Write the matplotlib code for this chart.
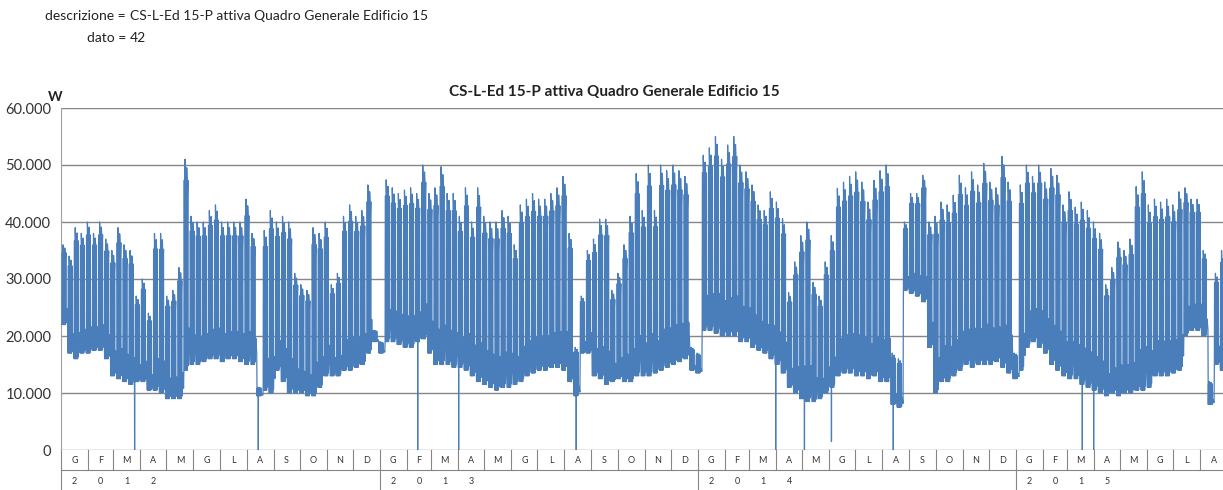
import numpy as np
import pandas as pd
import matplotlib
matplotlib.use('Agg')
import matplotlib.pyplot as plt
import matplotlib.dates as mdates
import matplotlib.transforms as mtransforms
from matplotlib.ticker import FuncFormatter

plt.rcParams['font.family'] = ['Lato', 'DejaVu Sans']

# weekly readings (kW) : peak of the working days and night base
# week 0 starts on monday 2012-01-02
peak_2012 = [36, 34, 39, 38, 40, 38, 40, 37, 35, 39,
             36, 35, 27, 30, 24, 38, 38, 27, 28, 32,
             51, 41, 40, 40, 42, 43, 40, 40, 40, 40,
             44, 38, 11, 38.5, 42, 40, 41, 40, 31, 29,
             28, 39, 38, 40, 29, 31, 41, 43, 41, 42,
             46.5, 21]
base_2012 = [22, 17, 16, 17, 17, 17.5, 17.5, 16, 13, 12.5,
             12, 11.5, 12, 12, 10.5, 10.5, 10, 9, 9, 9,
             14, 15, 15, 15.5, 16, 16, 15.5, 16, 16, 15.5,
             15, 15, 9.5, 10.5, 10, 14, 12, 10, 10, 10,
             9.5, 9.5, 11, 13, 13, 13, 14, 14, 14.5, 15,
             17, 19]
peak_2013 = [19, 47.4, 46, 45, 45.6, 46, 45, 50, 45, 46,
             49.7, 45, 45, 41, 46, 40, 46, 41, 40, 40,
             42, 41, 36, 43, 44, 45, 44, 44, 45, 46,
             48, 38, 18, 27, 35, 37, 40.5, 40.5, 28, 31,
             36, 41, 48.5, 42, 50, 42, 50, 49, 50, 49,
             48, 18]
base_2013 = [17, 19, 19, 18.5, 18, 18, 19, 19.5, 17, 15,
             15, 15, 14.5, 14.5, 14, 13, 12, 11.5, 11, 10.5,
             11, 11, 11.5, 12, 13, 13.5, 14, 14, 14.5, 14.5,
             14, 12, 9.5, 17, 17, 13, 12.5, 11.5, 12, 12.5,
             12, 12, 13, 13, 13, 13.5, 14, 14.5, 15, 15.5,
             16, 14]
peak_2014 = [17, 51.7, 53, 55, 51, 53.5, 55, 50, 48.8, 46.5,
             43, 42, 45.3, 43.5, 40.6, 27.6, 33, 37.6, 40, 29.4,
             27, 33, 37.6, 45.9, 47, 48, 48.8, 47, 43.5, 47.3,
             49, 50, 17, 16, 40, 45, 45, 48.2, 40, 41,
             43.5, 43, 44.7, 48.2, 46, 48.8, 46.5, 50.3, 47, 46,
             51.5, 47]
base_2014 = [13.5, 21, 21, 20.5, 20, 20, 20, 19, 19, 18,
             17.5, 17, 16, 15, 13.5, 11, 10, 9, 8.5, 8.5,
             9, 10, 11, 13, 13.5, 13.5, 13, 13, 12.5, 13,
             12, 12, 8, 7.5, 28, 27.5, 27, 26, 18, 10,
             12, 12, 13, 14, 15, 14.5, 15, 15, 15, 15.5,
             14.5, 13.5]
peak_2015 = [17, 46.5, 50, 48, 50, 47, 49.4, 48.2, 43, 45.3,
             42.6, 43.5, 42, 40, 38, 29, 32, 36.5, 35, 37,
             46.2, 48.8, 43, 44, 43.5, 44, 43, 45.3, 46, 44,
             44, 35, 12, 31, 35]
base_2015 = [12.5, 14, 18, 19, 18, 17, 15, 14, 13, 12.5,
             12.5, 11.5, 11, 10.5, 10, 9.5, 10, 9.5, 10, 10,
             10.5, 10.5, 11, 13, 13, 13, 13.5, 14, 20, 21,
             21, 20, 8, 15, 14]

# share of the weekly peak reached on each working day (mon..fri)
day_share = [0.9, 1.0, 0.93, 0.96, 0.82]

# single readings where the supply dropped
outage_dates = ['2012-03-25', '2012-08-14', '2013-02-13', '2013-04-01', '2013-08-14',
                '2014-03-31', '2014-05-03', '2014-06-03', '2014-08-13', '2015-03-18',
                '2015-03-31']
outage_values = [0, 0, 0, 0, 0, 0, 0, 1500, 0, 0, 0]

month_letters = ['G', 'F', 'M', 'A', 'M', 'G', 'L', 'A', 'S', 'O', 'N', 'D']
yticks = [0, 10000, 20000, 30000, 40000, 50000, 60000]
title = 'CS-L-Ed 15-P attiva Quadro Generale Edificio 15'

peak = np.array(peak_2012 + peak_2013 + peak_2014 + peak_2015) * 1000
base = np.array(base_2012 + base_2013 + base_2014 + base_2015) * 1000

# daily profile (time of day, share of the day swing) and weekend profile
work_day = [(0.08, 0.0), (0.2, 0.8), (0.32, 1.0), (0.7, 0.9),
            (0.82, 0.55), (0.94, 0.02)]
weekend = [(5.3, 0.15), (5.7, 0.2), (6.3, 0.12), (6.7, 0.08)]

first_monday = pd.Timestamp('2012-01-02')
times, vals = [], []
for w in range(len(peak)):
    start = first_monday + pd.Timedelta(weeks=w)
    swing = peak[w] - base[w]
    for d in range(5):
        for off, f in work_day:
            times.append(start + pd.Timedelta(days=d + off))
            vals.append(base[w] + swing * f * (day_share[d] if f == 1.0 else 1.0))
    for off, f in weekend:
        times.append(start + pd.Timedelta(days=off))
        vals.append(base[w] + swing * f)
s = pd.Series(vals, index=pd.DatetimeIndex(times))
out = pd.Series(outage_values, index=pd.to_datetime(outage_dates) + pd.Timedelta(hours=12))
s = pd.concat([s, out]).sort_index()

fig = plt.figure(figsize=(12.23, 4.90), dpi=100)
ax = fig.add_axes([61 / 1223, 40 / 490, 1 - 61 / 1223, 342 / 490])

xnum = mdates.date2num(s.index.to_pydatetime())
ax.plot(xnum, s.values, color='#4A7EBB', linewidth=0.9, zorder=3)

xmin = mdates.date2num(pd.Timestamp('2012-01-01').to_pydatetime())
xmax = mdates.date2num(pd.Timestamp('2015-08-27').to_pydatetime())
ax.set_xlim(xmin, xmax)
ax.set_ylim(0, 60000)

grid_col = '#868686'
ax.set_yticks(yticks)
ax.yaxis.set_major_formatter(FuncFormatter(lambda v, p: f'{int(v):,}'.replace(',', '.')))
ax.tick_params(axis='y', length=0, pad=7, labelsize=10.5, labelcolor='#333333')
ax.set_xticks([])
ax.grid(axis='y', color=grid_col, linewidth=1.0, zorder=1)
for side in ['top', 'right', 'bottom']:
    ax.spines[side].set_visible(False)
ax.spines['left'].set_color('#a0a0a0')
ax.spines['left'].set_linewidth(0.8)

# category axis: months and years
trans = mtransforms.blended_transform_factory(ax.transData, ax.transAxes)
months = pd.date_range('2012-01-01', '2015-09-01', freq='MS')
for a, b in zip(months[:-1], months[1:]):
    xa = mdates.date2num(a.to_pydatetime())
    if xa > xmax:
        continue
    low = -0.117 if a.month == 1 else -0.058
    ax.plot([xa, xa], [0, low], transform=trans, color=grid_col, linewidth=0.8,
            clip_on=False)
    xc = mdates.date2num((a + (b - a) / 2).to_pydatetime())
    if xc < xmax:
        ax.text(xc, -0.032, month_letters[a.month - 1], transform=trans,
                ha='center', va='center', fontsize=6.5, color='#333333')
    if a.month <= 4:
        ax.text(xc, -0.091, str(a.year)[a.month - 1], transform=trans,
                ha='center', va='center', fontsize=6.5, color='#333333')
ax.plot([0, 1], [-0.058, -0.058], transform=ax.transAxes, color=grid_col,
        linewidth=0.8, clip_on=False)

fig.text(614 / 1223, 1 - 92 / 490, title, ha='center', va='center',
         fontsize=11, fontweight='bold', color='#222222')
fig.text(55 / 1223, 1 - 97 / 490, 'W', ha='center', va='center',
         fontsize=10, fontweight='bold', color='#222222')

fig.text(126 / 1223, 1 - 16 / 490, 'descrizione =', ha='right', va='center',
         fontsize=10, color='#222222')
fig.text(130 / 1223, 1 - 16 / 490, 'CS-L-Ed 15-P attiva Quadro Generale Edificio 15',
         ha='left', va='center', fontsize=10, color='#222222')
fig.text(126 / 1223, 1 - 38 / 490, 'dato =', ha='right', va='center',
         fontsize=10, color='#222222')
fig.text(130 / 1223, 1 - 38 / 490, '42', ha='left', va='center',
         fontsize=10, color='#222222')

fig.savefig('out.png', dpi=100)
